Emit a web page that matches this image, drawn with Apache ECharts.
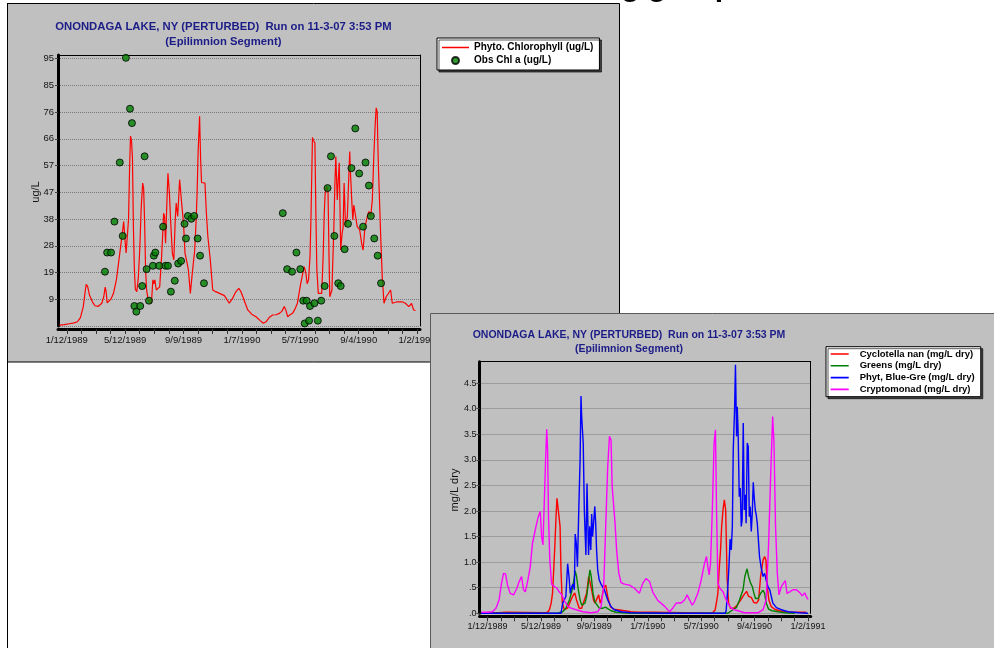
<!DOCTYPE html>
<html>
<head>
<meta charset="utf-8">
<title>Onondaga Lake (Perturbed) - Epilimnion phytoplankton</title>
<script src="https://cdn.jsdelivr.net/npm/echarts@6.0.0/dist/echarts.min.js"></script>
<style>
  html, body { margin: 0; padding: 0; background: #ffffff; }
  #chart { width: 994px; height: 648px; }
</style>
</head>
<body>
<div id="chart"></div>
<script>
// x values are days after 1/12/1989
const dateLabels = ['1/12/1989', '5/12/1989', '9/9/1989', '1/7/1990', '5/7/1990', '9/4/1990', '1/2/1991'];

// Modelled chlorophyll a (ug/L), [day, value]
const chlModel = [
  [-15,0.3],[-5,0.5],[5,0.8],[15,1.1],[22,1.5],[28,3.0],[34,6.9],[38,12.5],[40,14.8],[43,14.0],[47,10.8],[53,8.5],
  [58,7.2],[65,7.0],[72,8.1],[76,10.4],[79,13.8],[81,12],[83,8.2],[87,8.4],[91,9.6],[96,11.6],[102,16.4],[109,25.9],
  [115,34.2],[117,37.1],[120,30],[122,26],[124,25.3],[127,38],[129,55],[131,67.5],[133,66],[135,60],[137,35],[139,20],
  [141,13],[144,12.2],[147,17],[150,27],[153,42],[156,50.8],[158,49],[160,37],[162,20],[164,13],[167,9.5],[170,9.3],
  [174,8.1],[177,16.4],[179,15],[181,16.4],[184,12.8],[188,13.5],[191,13.9],[195,25],[198,35.3],[199,40.1],[201,38.9],
  [203,29.4],[206,45],[208,54.3],[211,47.2],[213,38.9],[217,25.9],[220,23.5],[223,38],[225,43.7],[228,38.9],[232,52],
  [235.5,44.8],[240,36.5],[243,25.9],[246,23.5],[250,19.9],[254,11.6],[258,18.8],[263,27],[266,38],[268,48],[270,62],
  [272,70],[273,74.5],[275,60],[277,51],[281,50.5],[284,50.8],[287,40],[290,31.8],[295,23.5],[300,12.8],[306,12.2],
  [314,11.6],[324,10.8],[334,8.1],[341,9.9],[347,12.0],[353.5,13.4],[358,12.2],[362,10.4],[367,8.0],[372,5.7],[380,4.2],
  [389,3.3],[397,2.0],[404,1.0],[409.6,1.5],[416,3.0],[423,3.9],[430,4.0],[437,4.5],[442,5.2],[447,6.9],[450,5.8],
  [454,3.3],[459,4.0],[464,4.5],[469,6.0],[474,8.1],[481,15.2],[486,19.5],[488,21.1],[491.5,18.8],[494,15],[497,16.4],
  [500,25],[502,38.9],[504,58],[505,67],[507,66],[510,65],[512,40],[514,20],[517,11.6],[524,11.6],[527,25],[529,38.9],
  [531,47],[534,49.6],[537,47.2],[539,25],[540.6,10.4],[545,12.8],[549,35.3],[551,50],[553,60.2],[556,44.8],[558,52],
  [560,58],[562,38],[563,27],[566,33],[568,35],[570,50.8],[573,35.3],[576.7,38.9],[579,50],[581.6,62],[583,55],
  [585.7,44.8],[588,37.7],[590,43],[592.5,43.7],[597,35.3],[602,34.2],[606,29.4],[609,27],[613,35.3],[617.7,38.9],
  [621,40.7],[624.6,38.9],[628,44.8],[631,60],[634,72],[636,77.5],[638,76],[640,60],[641.6,50.8],[645,33],[648.4,17.5],
  [652,8.1],[656.6,10.4],[660.7,10.4],[665.6,12.8],[669,8.1],[679,8.6],[689,8.6],[696,8.1],[703,6.9],[708.6,8],
  [713,5.7],[716.8,5.5]
];

// Observed chlorophyll a (ug/L), [day, value]
const chlObserved = [
  [78.5,19.3],[83,26.1],[91,26.1],[98,37.1],[109,58.1],[115,32],[121.5,95.3],[130,77.2],[134,72.1],[139,7.1],
  [143,5.1],[151,7.1],[155,14.2],[160,60.3],[164,20.2],[169,9],[177,21.4],[179,25],[182,26.1],[190,21.4],[198,35.3],
  [203,21.4],[208,21.4],[214,12.2],[222,16.1],[229,22.2],[235,23.1],[242,36.3],[245,31.1],[249,39.1],[256,38.1],
  [262,39.1],[269,31.1],[274,25],[282,15.2],
  [444,40.1],[453,20.2],[463,19.3],[472,26.1],[480,20.2],[486,9],[489,0.9],[493,9],[498,1.9],[500,7.1],[509,8.1],
  [516,1.9],[523,9],[530,14.2],[536,49],[543,60.3],[550,32],[558,15.2],[563,14.2],[571,27.3],[578,36.3],[585,56.1],
  [593,70.2],[601,54.2],[609,35.3],[614,58.1],[621,49.9],[625,39.1],[632,31.1],[639,25],[646,15.2]
];

// Phytoplankton groups (mg/L dry), [day, value]
const cyclotella = [
  [-15,0.01],[25,0.01],[27,0.02],[42,0.02],[44,0.01],[130,0.01],[136,0.03],[139,0.07],[143,0.2],[146,0.39],[149,0.9],
  [151.5,1.37],[154,1.9],[156,2.25],[158,2.28],[160,2.27],[163,1.7],[165,0.85],[168,0.2],[172.5,0.07],[180,0.1],
  [186,0.23],[191,0.33],[196,0.4],[200,0.26],[206,0.1],[211.5,0.1],[217.5,0.26],[222.75,0.39],[227.25,0.72],[231,0.72],
  [234,0.46],[238,0.26],[241.5,0.2],[245,0.2],[249.75,0.36],[253,0.2],[256.5,0.29],[261,0.49],[265.5,0.55],[270,0.33],
  [276,0.13],[283.5,0.08],[292.5,0.07],[307.5,0.05],[322.5,0.03],[337.5,0.02],[375,0.02],[378,0.0],[505,0],[509,0.02],
  [511.5,0.07],[514,0.2],[517.5,0.39],[520,0.8],[523.5,1.24],[526,1.7],[529,2.02],[532,2.22],[535,2.02],[537,1.2],
  [538,0.72],[541.5,0.2],[546,0.1],[553.5,0.1],[561,0.16],[568.5,0.26],[576,0.36],[582,0.43],[586.5,0.33],[592.5,0.31],
  [598.5,0.21],[604.5,0.2],[609,0.26],[613.5,0.72],[619,1.04],[622.5,1.11],[625.5,1.04],[628.5,0.52],[632,0.26],
  [637.5,0.13],[645,0.08],[656,0.05],[667.5,0.03],[682.5,0.02],[716,0.02]
];

const greens = [
  [-15,0],[155,0],[161,0.01],[169,0.03],[176,0.1],[184,0.26],[189,0.42],[193.5,0.62],[197,0.83],[200,0.72],[204,0.46],
  [208,0.26],[211.5,0.16],[215,0.13],[219,0.2],[222.75,0.33],[226.5,0.59],[230,0.85],[233,0.72],[237,0.39],[241,0.23],
  [245,0.2],[251,0.1],[259,0.1],[265,0.12],[270,0.09],[277.5,0.05],[289,0.02],[304,0.01],[320,0],[540,0],[544,0.03],
  [551,0.07],[559,0.11],[566,0.26],[574,0.46],[578,0.72],[583,0.87],[586.5,0.72],[591,0.59],[595,0.52],[598.5,0.39],
  [602,0.29],[607.5,0.29],[613.5,0.39],[619,0.45],[622.5,0.39],[626,0.2],[631.5,0.08],[639,0.05],[652.5,0.03],
  [667.5,0.01],[690,0]
];

const blueGreen = [
  [-15,0],[100,0],[165,0.0],[169,0.2],[172.5,0.26],[176,0.33],[180,0.97],[183,0.72],[186,0.39],[189,0.52],[192,0.57],
  [195,0.46],[197,1.55],[199.5,1.37],[202,0.91],[205,2.02],[208,3.0],[210,4.25],[211.5,3.85],[213,3.85],[215,3.33],
  [217.5,2.02],[219,1.63],[221,1.14],[223.5,2.54],[225.5,2.53],[227,1.14],[229.5,1.7],[232,1.24],[234,1.94],[236,1.5],
  [238.5,1.79],[241,2.09],[243,1.76],[245,1.24],[247.5,0.85],[251,0.65],[255,0.57],[259,0.57],[262.5,0.46],[270,0.26],
  [277.5,0.13],[285,0.07],[300,0.03],[322,0.01],[400,0],[534,0],[536,0.05],[538.5,0.33],[542,0.85],[545,1.45],
  [547.5,1.24],[550,1.7],[552,3.2],[555,3.98],[557,4.86],[559.5,3.46],[561,4.04],[563,3.52],[565.5,2.28],[567.75,2.45],
  [570,1.7],[572,1.83],[574.5,3.72],[576.75,2.02],[579,2.32],[581,1.76],[583.5,3.33],[585.75,3.26],[588,1.89],
  [590,2.09],[592.5,1.6],[594.75,1.96],[597,2.56],[599,2.28],[601.5,2.02],[603.75,1.92],[606,1.76],[608,1.5],[611,1.11],
  [615,0.88],[619,0.72],[622.5,0.78],[626,0.65],[630,0.52],[634,0.46],[637.5,0.33],[641,0.2],[649,0.11],[660,0.07],
  [675,0.03],[700,0.01],[720,0]
];

const cryptomonad = [
  [-13.5,0.02],[0,0.02],[11,0.03],[19,0.1],[26,0.26],[31.5,0.59],[36,0.78],[40.5,0.77],[45,0.55],[51,0.39],[58.5,0.36],
  [66,0.49],[71,0.62],[76.5,0.72],[81,0.46],[85,0.42],[90,0.62],[96,0.91],[101,1.37],[109,1.7],[114,1.89],[118.5,1.99],
  [121.5,1.5],[124.5,1.34],[127.5,1.37],[130.5,3.0],[133,3.6],[135,3.2],[137,1.89],[140,1.04],[144,0.57],[150,0.53],
  [156,0.49],[161,0.42],[167,0.36],[172.5,0.25],[180,0.14],[187.5,0.1],[199,0.07],[214,0.03],[232.5,0.01],[247.5,0.03],
  [255,0.13],[261,0.52],[265.5,1.7],[270,2.87],[274,3.46],[277.5,3.39],[280,2.48],[283,2.45],[286.5,1.76],[290,1.24],
  [295,0.78],[300,0.6],[307.5,0.57],[319,0.55],[330,0.49],[341,0.39],[349,0.59],[356,0.68],[364,0.62],[371,0.42],
  [382.5,0.25],[397.5,0.14],[409,0.03],[416,0.1],[424,0.2],[435,0.2],[442.5,0.26],[448.5,0.36],[454,0.26],[460,0.16],
  [465,0.23],[472.5,0.39],[480,0.65],[487.5,0.98],[492,1.11],[495,0.91],[498,0.75],[501,0.98],[505,2.02],[509,3.33],
  [512,3.59],[514.5,2.02],[517.5,0.59],[522,0.49],[529,0.42],[536,0.26],[544,0.14],[551,0.08],[562.5,0.05],
  [577.5,0.01],[607.5,0.01],[619,0.07],[626,0.26],[631.5,1.37],[636,2.67],[640.5,3.85],[643.5,3.33],[647,1.7],
  [651,0.78],[654.75,0.36],[660,0.52],[665,0.59],[669,0.64],[672.75,0.39],[678.75,0.42],[686,0.46],[694,0.46],
  [701.75,0.4],[707,0.34],[712.5,0.4],[716,0.33],[720,0.27]
];

const FONT = '"Liberation Sans", Arial, Helvetica, sans-serif';
const TITLE_LINE_1 = 'ONONDAGA LAKE, NY (PERTURBED)  Run on 11-3-07 3:53 PM';
const TITLE_LINE_2 = '(Epilimnion Segment)';
const NAVY = '#1c1c88';

// plain line swatches for the legends (invisible end points keep the box height)
const LINE_ICON_7 = 'path://M0,0L0.01,0M0,2.75H27V4.25H0ZM0,7L0.01,7';
const LINE_ICON_6 = 'path://M0,0L0.01,0M0,2.2H18V3.8H0ZM0,6L0.01,6';

// date label -> day offset from the first label
const DAY_MS = 86400000;
const EPOCH = Date.UTC(1989, 0, 12);
function dayOf(label) {
  const p = label.split('/').map(Number);
  return Math.round((Date.UTC(p[2], p[0] - 1, p[1]) - EPOCH) / DAY_MS);
}
const labelDays = dateLabels.map(dayOf);
const minorDays = [];
for (let d = labelDays[0]; d <= labelDays[labelDays.length - 1]; d += 30) minorDays.push(d);
function dateFor(v) {
  const i = labelDays.indexOf(Math.round(v));
  return i >= 0 ? dateLabels[i] : '';
}

const X_MIN = -18, X_MAX = 726;

function bottomAxis(gridIndex, fontSize, z) {
  return {
    type: 'value', gridIndex, min: X_MIN, max: X_MAX, position: 'bottom', offset: 3, z,
    axisLine: { show: true, onZero: false, lineStyle: { color: '#000', width: 3 } },
    axisTick: { show: true, customValues: minorDays, length: 5, lineStyle: { color: '#333', width: 1 } },
    axisLabel: { show: true, customValues: labelDays, formatter: dateFor, margin: 6,
      fontSize, fontFamily: FONT, color: '#111' },
    splitLine: { show: false }
  };
}
function topAxis(gridIndex, z) {
  return {
    type: 'value', gridIndex, min: X_MIN, max: X_MAX, position: 'top', z,
    axisLine: { show: true, onZero: false, lineStyle: { color: '#000', width: 1 } },
    axisTick: { show: false }, axisLabel: { show: false }, splitLine: { show: false }
  };
}
function rightAxis(gridIndex, z) {
  return {
    type: 'value', gridIndex, min: 0, max: 1, position: 'right', z,
    axisLine: { show: true, onZero: false, lineStyle: { color: '#000', width: 1 } },
    axisTick: { show: false }, axisLabel: { show: false }, splitLine: { show: false }
  };
}
function lineLegendItem(name, icon, color) {
  return { name, icon, itemStyle: { color, borderWidth: 0 }, lineStyle: { color } };
}

const chart = echarts.init(document.getElementById('chart'), null, { renderer: 'canvas' });

chart.setOption({
  animation: false,
  backgroundColor: '#ffffff',
  grid: [
    { left: 58, top: 55, width: 362, height: 271, outerBoundsMode: 'none', containLabel: false },
    { left: 479.5, top: 361.7, width: 331.2, height: 251.6, outerBoundsMode: 'none', containLabel: false }
  ],
  xAxis: [
    bottomAxis(0, 9.5, 1),
    topAxis(0, 1),
    bottomAxis(1, 9, 11),
    topAxis(1, 11)
  ],
  yAxis: [
    {
      type: 'value', gridIndex: 0, min: 0, max: 96.3, interval: 9.5, position: 'left', z: 1,
      axisLine: { show: true, onZero: false, lineStyle: { color: '#000', width: 3 } },
      axisTick: { show: true, length: 3, lineStyle: { color: '#444' } },
      axisLabel: { showMinLabel: false, showMaxLabel: false, margin: 4, fontSize: 9.5, fontFamily: FONT, color: '#111',
        formatter: v => String(Math.floor(v + 1e-9)) },
      splitLine: { show: true, lineStyle: { color: '#7a7a7a', type: 'dotted', width: 1 } }
    },
    rightAxis(0, 1),
    {
      type: 'value', gridIndex: 1, min: 0, max: 4.92, interval: 0.5, position: 'left', z: 11,
      axisLine: { show: true, onZero: false, lineStyle: { color: '#000', width: 3 } },
      axisTick: { show: true, length: 3, lineStyle: { color: '#444' } },
      axisLabel: { showMinLabel: true, showMaxLabel: false, margin: 3, fontSize: 9, fontFamily: FONT, color: '#111',
        formatter: v => (v < 1 ? v.toFixed(1).replace(/^0/, '') : v.toFixed(1)) },
      splitLine: { show: true, lineStyle: { color: '#7a7a7a', type: 'dotted', width: 1 } }
    },
    rightAxis(1, 11)
  ],
  legend: [
    {
      data: [
        lineLegendItem('Phyto. Chlorophyll (ug/L)', LINE_ICON_7, '#ff0000'),
        { name: 'Obs Chl a (ug/L)' }
      ],
      orient: 'vertical', left: 437, top: 38, z: 4,
      padding: [4, 6, 4, 5], itemGap: 2, itemWidth: 27, itemHeight: 7,
      backgroundColor: '#ffffff', borderColor: '#000', borderWidth: 1,
      shadowColor: 'rgba(0,0,0,0.65)', shadowOffsetX: 2, shadowOffsetY: 2, shadowBlur: 0,
      textStyle: { fontFamily: FONT, fontSize: 10, fontWeight: 'bold', color: '#000', width: 118, lineHeight: 11 }
    },
    {
      data: [
        lineLegendItem('Cyclotella nan (mg/L dry)', LINE_ICON_6, '#ff0000'),
        lineLegendItem('Greens (mg/L dry)', LINE_ICON_6, '#008000'),
        lineLegendItem('Phyt, Blue-Gre (mg/L dry)', LINE_ICON_6, '#0000ff'),
        lineLegendItem('Cryptomonad (mg/L dry)', LINE_ICON_6, '#ff00ff')
      ],
      orient: 'vertical', left: 826, top: 346.7, z: 13,
      padding: [2.3, 6, 2.3, 4.7], itemGap: 1.8, itemWidth: 18, itemHeight: 6,
      backgroundColor: '#ffffff', borderColor: '#000', borderWidth: 1,
      shadowColor: 'rgba(0,0,0,0.65)', shadowOffsetX: 2, shadowOffsetY: 2, shadowBlur: 0,
      textStyle: { fontFamily: FONT, fontSize: 9.5, fontWeight: 'bold', color: '#000', width: 113, lineHeight: 10,
        padding: [0, 0, 0, 6] }
    }
  ],
  series: [
    {
      name: 'Phyto. Chlorophyll (ug/L)', type: 'line', xAxisIndex: 0, yAxisIndex: 0, z: 2,
      data: chlModel, symbol: 'none',
      lineStyle: { color: '#ff0000', width: 1.2 }, itemStyle: { color: '#ff0000', borderWidth: 0 }
    },
    {
      name: 'Obs Chl a (ug/L)', type: 'scatter', xAxisIndex: 0, yAxisIndex: 0, z: 3,
      data: chlObserved, symbol: 'circle', symbolSize: 7,
      itemStyle: { color: '#007f00', borderColor: '#000', borderWidth: 1 }
    },
    {
      name: 'Cyclotella nan (mg/L dry)', type: 'line', xAxisIndex: 2, yAxisIndex: 2, z: 12,
      data: cyclotella, symbol: 'none', lineStyle: { color: '#ff0000', width: 1.4 },
      itemStyle: { color: '#ff0000', borderWidth: 0 }
    },
    {
      name: 'Greens (mg/L dry)', type: 'line', xAxisIndex: 2, yAxisIndex: 2, z: 12,
      data: greens, symbol: 'none', lineStyle: { color: '#008000', width: 1.4 },
      itemStyle: { color: '#008000', borderWidth: 0 }
    },
    {
      name: 'Phyt, Blue-Gre (mg/L dry)', type: 'line', xAxisIndex: 2, yAxisIndex: 2, z: 12,
      data: blueGreen, symbol: 'none', lineStyle: { color: '#0000ff', width: 1.4 },
      itemStyle: { color: '#0000ff', borderWidth: 0 }
    },
    {
      name: 'Cryptomonad (mg/L dry)', type: 'line', xAxisIndex: 2, yAxisIndex: 2, z: 12,
      data: cryptomonad, symbol: 'none', lineStyle: { color: '#ff00ff', width: 1.4 },
      itemStyle: { color: '#ff00ff', borderWidth: 0 }
    }
  ],
  graphic: [
    // slide frame line and slide heading running off the top edge
    { type: 'line', z: 0, shape: { x1: 7.5, y1: 3, x2: 7.5, y2: 648 }, style: { stroke: '#000', lineWidth: 1 } },
    { type: 'text', z: 20, style: { x: 733, y: 3, text: 'Modeling group', textAlign: 'right', textVerticalAlign: 'bottom',
      font: 'bold 30px ' + FONT, fill: '#000' } },
    // chlorophyll panel
    { type: 'rect', z: 0, shape: { x: 7.5, y: 3.5, width: 612, height: 358.5 },
      style: { fill: '#c0c0c0', stroke: '#000', lineWidth: 1 } },
    { type: 'text', z: 5, style: { x: 223.4, y: 26.7, text: TITLE_LINE_1, textAlign: 'center', textVerticalAlign: 'middle',
      font: 'bold 11.3px ' + FONT, fill: NAVY } },
    { type: 'text', z: 5, style: { x: 223.4, y: 42.2, text: TITLE_LINE_2, textAlign: 'center', textVerticalAlign: 'middle',
      font: 'bold 11.3px ' + FONT, fill: NAVY } },
    { type: 'text', z: 5, x: 36, y: 192, rotation: Math.PI / 2,
      style: { x: 0, y: 0, text: 'ug/L', textAlign: 'center', textVerticalAlign: 'middle', font: '11px ' + FONT, fill: '#111' } },
    // phytoplankton group panel
    { type: 'rect', z: 10, shape: { x: 430.5, y: 313.5, width: 570, height: 340 },
      style: { fill: '#c0c0c0', stroke: '#5a5a5a', lineWidth: 1 } },
    { type: 'text', z: 14, style: { x: 629, y: 335, text: TITLE_LINE_1, textAlign: 'center', textVerticalAlign: 'middle',
      font: 'bold 10.5px ' + FONT, fill: NAVY } },
    { type: 'text', z: 14, style: { x: 629, y: 349.3, text: TITLE_LINE_2, textAlign: 'center', textVerticalAlign: 'middle',
      font: 'bold 10.5px ' + FONT, fill: NAVY } },
    { type: 'text', z: 14, x: 455, y: 490, rotation: Math.PI / 2,
      style: { x: 0, y: 0, text: 'mg/L dry', textAlign: 'center', textVerticalAlign: 'middle', font: '11px ' + FONT, fill: '#111' } }
  ]
});
</script>
</body>
</html>
